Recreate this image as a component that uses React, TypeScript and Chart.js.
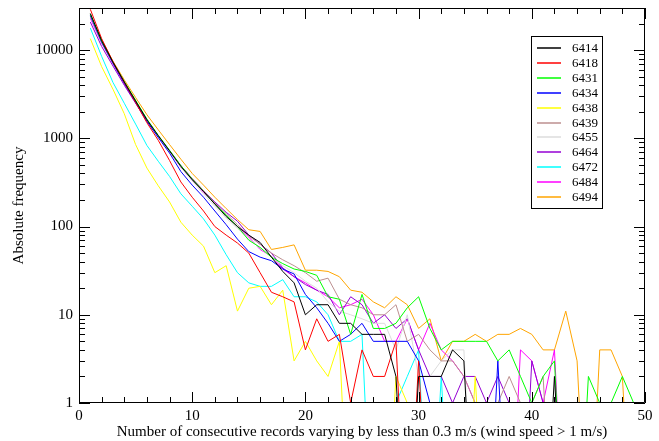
import React, { useEffect, useRef } from "react";
import { Chart, registerables } from "chart.js";

Chart.register(...registerables);

// ---------- data ----------
const xValues = [
  1, 2, 3, 4, 5, 6, 7, 8, 9, 10, 11, 12, 13, 14, 15, 16, 17, 18, 19, 20, 21, 22, 23, 24, 25,
  26, 27, 28, 29, 30, 31, 32, 33, 34, 35, 36, 37, 38, 39, 40, 41, 42, 43, 44, 45, 46, 47, 48, 49, 50,
];

const s6414 = [
  26000, 12800, 7300, 4350, 2650, 1620, 1070, 720, 480, 340, 250, 180, 130, 100, 80, 66, 45, 31, 23, 10,
  13, 13, 8, 8, 6, 6, 6, 2, 0, 2, 2, 2, 4, 3, 0, 0, 0, 0, 0, 0, 0, 2, 0, 0, 0, 0, 0, 0, 0, 0,
];
const s6418 = [
  29000, 13500, 7400, 4300, 2550, 1500, 950, 560, 320, 215, 150, 100, 80, 65, 50, 30, 18, 16, 14, 4,
  9, 5, 6, 1, 4, 2, 2, 5, 0, 3, 0, 0, 0, 0, 0, 0, 0, 0, 0, 0, 0, 0, 0, 0, 0, 0, 0, 0, 0, 0,
];
const s6431 = [
  25500, 12600, 7300, 4400, 2700, 1650, 1080, 730, 490, 345, 250, 180, 135, 100, 70, 58, 45, 38, 33, 31,
  28, 16, 15, 6, 17, 7, 7, 8, 12, 16, 7, 4, 5, 5, 5, 5, 3, 4, 2, 1, 2, 3, 0, 0, 2, 1, 1, 2, 1, 0,
];
const s6434 = [
  24500, 12300, 7100, 4200, 2550, 1560, 1020, 680, 420, 295, 215, 150, 105, 72, 52, 45, 41, 33, 29, 17,
  12, 8, 5, 6, 8, 5, 5, 5, 5, 3, 1, 0, 0, 0, 0, 0, 3, 0, 0, 0, 0, 0, 0, 0, 0, 0, 0, 0, 0, 0,
];
const s6438 = [
  13500, 6500, 3600, 1900, 850, 460, 290, 190, 112, 80, 60, 30, 36, 11, 20, 21, 13, 19, 3, 5,
  3, 2, 5, 0, 0, 0, 0, 2, 1, 0, 0, 0, 0, 0, 2, 0, 0, 0, 0, 0, 0, 0, 0, 0, 0, 0, 0, 0, 0, 0,
];
const s6439 = [
  25000, 12600, 7300, 4350, 2650, 1640, 1080, 730, 490, 350, 255, 185, 140, 105, 78, 63, 50, 42, 36, 30,
  24, 26, 15, 13, 12, 10, 10, 13, 5, 6, 4, 3, 3, 2, 1, 0, 1, 2, 1, 1, 2, 0, 0, 0, 0, 0, 0, 0, 0, 0,
];
const s6455 = [
  24000, 12400, 7200, 4300, 2600, 1600, 1050, 700, 470, 330, 235, 170, 125, 95, 72, 57, 45, 36, 30, 24,
  20, 14, 11, 10, 9, 8, 8, 4, 10, 2, 2, 3, 4, 4, 0, 0, 0, 0, 0, 0, 0, 0, 0, 0, 0, 0, 0, 0, 0, 0,
];
const s6464 = [
  20800, 11000, 6600, 4000, 2500, 1560, 1040, 710, 490, 350, 255, 190, 145, 115, 80, 63, 50, 34, 27, 22,
  19, 17, 10, 16, 13, 8, 10, 7, 9, 4, 2, 2, 1, 2, 2, 1, 2, 1, 0, 3, 1, 0, 0, 0, 0, 0, 0, 0, 0, 0,
];
const s6472 = [
  17800, 8500, 4300, 2500, 1450, 830, 550, 370, 235, 170, 122, 80, 48, 30, 23, 21, 21, 25, 16, 16,
  14, 10, 5, 5, 6, 0, 0, 1, 2, 4, 0, 2, 0, 0, 0, 0, 0, 0, 0, 0, 0, 0, 0, 0, 0, 0, 0, 0, 0, 0,
];
const s6484 = [
  23000, 12000, 7000, 4200, 2550, 1580, 1040, 700, 470, 335, 245, 180, 135, 100, 76, 55, 46, 33, 27, 23,
  19, 16, 12, 13, 15, 10, 5, 5, 9, 4, 8, 4, 3, 2, 1, 0, 0, 0, 4, 3, 1, 4, 0, 0, 0, 0, 0, 0, 0, 0,
];
const s6494 = [
  25000, 13000, 7500, 4600, 2900, 1850, 1250, 850, 580, 400, 295, 215, 160, 120, 92, 88, 55, 58, 62, 32,
  32, 31, 27, 19, 18, 14, 12, 16, 13, 7, 9, 3, 5, 5, 6, 5, 6, 6, 7, 6, 4, 4, 11, 3, 0, 4, 4, 2, 0, 0,
];

const seriesNames = ["6414", "6418", "6431", "6434", "6438", "6439", "6455", "6464", "6472", "6484", "6494"];
const seriesValues = [s6414, s6418, s6431, s6434, s6438, s6439, s6455, s6464, s6472, s6484, s6494];
const seriesColors = [
  "#000000", "#ff0000", "#00ff00", "#0000ff", "#ffff00", "#bc8f8f",
  "#dcdcdc", "#9400d3", "#00ffff", "#ff00ff", "#ffa500",
];

const yTickValues = [1, 10, 100, 1000, 10000];
const xTickValues = [0, 10, 20, 30, 40, 50];
const xTitle = "Number of consecutive records varying by less than 0.3 m/s (wind speed > 1 m/s)";
const yTitle = "Absolute frequency";

const X_MIN = 0;
const X_MAX = 50;
const Y_MIN = 1;
const Y_MAX = 30000;
// zero counts cannot sit on a log axis; they are drawn far below the bottom edge (clipped)
const ZERO_DRAW = 0.01;

const FONT = "'Liberation Serif', 'DejaVu Serif', serif";

const frameTicksPlugin = {
  id: "frameTicks",
  afterDatasetsDraw(chart: any) {
    const { ctx, chartArea } = chart;
    const { left, right, top, bottom } = chartArea;
    const xs = chart.scales.x;
    const ys = chart.scales.y;
    ctx.save();
    ctx.strokeStyle = "#000";
    ctx.lineWidth = 1;
    ctx.beginPath();
    ctx.rect(left + 0.5, top + 0.5, right - left - 1, bottom - top - 1);
    ctx.stroke();
    ctx.beginPath();
    for (let v = X_MIN; v <= X_MAX; v += 2) {
      const px = Math.round(xs.getPixelForValue(v)) + 0.5;
      const len = v % 10 === 0 ? 11 : 6;
      ctx.moveTo(px, bottom);
      ctx.lineTo(px, bottom - len);
      ctx.moveTo(px, top);
      ctx.lineTo(px, top + len);
    }
    for (let d = 1; d <= Y_MAX; d *= 10) {
      for (let m = 1; m <= 9; m++) {
        const v = d * m;
        if (v < Y_MIN || v > Y_MAX) continue;
        const py = Math.round(ys.getPixelForValue(v)) + 0.5;
        const len = m === 1 ? 11 : 6;
        ctx.moveTo(left, py);
        ctx.lineTo(left + len, py);
        ctx.moveTo(right, py);
        ctx.lineTo(right - len, py);
      }
    }
    ctx.stroke();
    ctx.restore();
  },
};

const boxLegendPlugin = {
  id: "boxLegend",
  afterDraw(chart: any) {
    const { ctx } = chart;
    const bx = 531;
    const by = 36;
    const bw = 71;
    const bh = 172;
    ctx.save();
    ctx.fillStyle = "#ffffff";
    ctx.fillRect(bx, by, bw, bh);
    ctx.strokeStyle = "#000";
    ctx.lineWidth = 1;
    ctx.strokeRect(bx + 0.5, by + 0.5, bw, bh);
    ctx.font = `13px ${FONT}`;
    ctx.textBaseline = "middle";
    ctx.textAlign = "left";
    seriesNames.forEach((name, i) => {
      const y = Math.round(by + 12 + i * 14.9);
      ctx.strokeStyle = seriesColors[i];
      ctx.lineWidth = 1.5;
      ctx.beginPath();
      ctx.moveTo(bx + 6, y);
      ctx.lineTo(bx + 30, y);
      ctx.stroke();
      ctx.fillStyle = "#000";
      ctx.fillText(name, bx + 41, y + 1);
    });
    ctx.restore();
  },
};

export default function App() {
  const canvasRef = useRef<HTMLCanvasElement | null>(null);

  useEffect(() => {
    const canvas = canvasRef.current;
    if (!canvas) return;
    const datasets = seriesNames.map((name, i) => ({
      label: name,
      data: xValues.map((x, j) => ({ x, y: seriesValues[i][j] > 0 ? seriesValues[i][j] : ZERO_DRAW })),
      borderColor: seriesColors[i],
      backgroundColor: seriesColors[i],
      borderWidth: 1,
      pointRadius: 0,
      pointHoverRadius: 0,
      tension: 0,
      fill: false,
      clip: 0,
    }));

    const chart = new Chart(canvas, {
      type: "line",
      data: { datasets },
      options: {
        animation: false,
        responsive: false,
        devicePixelRatio: 1,
        layout: { padding: { top: 8, right: 14, left: 0, bottom: 0 } },
        plugins: {
          legend: { display: false },
          tooltip: { enabled: false },
        },
        scales: {
          x: {
            type: "linear",
            min: X_MIN,
            max: X_MAX,
            grid: { display: false, drawTicks: false },
            border: { display: false },
            afterBuildTicks: (scale: any) => {
              scale.ticks = xTickValues.map((v) => ({ value: v }));
            },
            afterFit: (scale: any) => {
              scale.height = 38;
              scale.paddingLeft = 0;
              scale.paddingRight = 0;
            },
            ticks: {
              padding: 4,
              color: "#000",
              font: { family: FONT, size: 15 },
              maxRotation: 0,
              callback: (v: any) => String(v),
            },
            title: {
              display: true,
              text: xTitle,
              color: "#000",
              font: { family: FONT, size: 15, lineHeight: 1 },
              padding: { top: 0, bottom: 1 },
            },
          },
          y: {
            type: "logarithmic",
            min: Y_MIN,
            max: Y_MAX,
            grid: { display: false, drawTicks: false },
            border: { display: false },
            afterBuildTicks: (scale: any) => {
              scale.ticks = yTickValues.map((v) => ({ value: v }));
            },
            afterFit: (scale: any) => {
              scale.width = 79;
              scale.paddingTop = 0;
              scale.paddingBottom = 0;
            },
            ticks: {
              padding: 6,
              color: "#000",
              font: { family: FONT, size: 15 },
              callback: (v: any) => String(v),
            },
            title: {
              display: true,
              text: yTitle,
              color: "#000",
              font: { family: FONT, size: 15, lineHeight: 1 },
              padding: { top: 12, bottom: 0 },
            },
          },
        },
      },
      plugins: [frameTicksPlugin, boxLegendPlugin],
    } as any);

    return () => chart.destroy();
  }, []);

  return (
    <div style={{ position: "absolute", left: 0, top: 0, width: 659, height: 441, background: "#fff" }}>
      <canvas ref={canvasRef} width={659} height={441} style={{ display: "block", width: 659, height: 441 }} />
    </div>
  );
}
